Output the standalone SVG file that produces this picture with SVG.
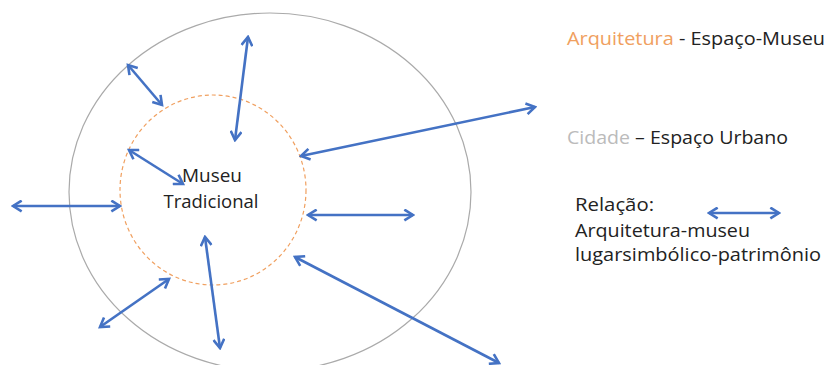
<svg xmlns="http://www.w3.org/2000/svg" width="832" height="365" viewBox="0 0 832 365">
<style>
.arr{stroke:#4472C4;stroke-width:2.6;fill:none;marker-start:url(#ah);marker-end:url(#ah)}
.t{font-family:"Open Sans","Liberation Sans",sans-serif;font-size:19px;fill:#222}
</style>
<defs>
<marker id="ah" viewBox="0 0 12 12" refX="10" refY="6" markerWidth="13" markerHeight="13" markerUnits="userSpaceOnUse" orient="auto-start-reverse">
<path d="M2,1 L10,6 L2,11" fill="none" stroke="#4472C4" stroke-width="2.4" stroke-linejoin="miter"/>
</marker>
</defs>
<rect width="832" height="365" fill="#fff"/>
<g id="cidade">
<ellipse cx="270" cy="192" rx="201" ry="179" fill="none" stroke="#AAAAAA" stroke-width="1.2"/>
</g>
<g id="museu">
<ellipse cx="213" cy="190" rx="93" ry="95" fill="none" stroke="#F0A060" stroke-width="1.2" stroke-dasharray="4,3"/>
<text class="t" x="212" y="182" text-anchor="middle" font-size="20" textLength="60" lengthAdjust="spacingAndGlyphs">Museu</text>
<text class="t" x="211" y="208" text-anchor="middle" font-size="20" textLength="95" lengthAdjust="spacingAndGlyphs">Tradicional</text>
</g>
<g id="connectors">
<line class="arr" x1="248" y1="37" x2="235" y2="140"/>
<line class="arr" x1="128" y1="65" x2="162" y2="105"/>
<line class="arr" x1="535" y1="107" x2="301" y2="156"/>
<line class="arr" x1="129" y1="150" x2="183" y2="184"/>
<line class="arr" x1="13" y1="206" x2="120" y2="206"/>
<line class="arr" x1="308" y1="215" x2="413" y2="215"/>
<line class="arr" x1="169" y1="279" x2="100" y2="327"/>
<line class="arr" x1="205" y1="237" x2="220" y2="348"/>
<line class="arr" x1="295" y1="257" x2="499" y2="363"/>
</g>
<g id="legenda">
<text class="t" x="567" y="45" textLength="258" lengthAdjust="spacingAndGlyphs"><tspan fill="#F0A060">Arquitetura</tspan> - Espaço-Museu</text>
<text class="t" x="567" y="144" textLength="221" lengthAdjust="spacingAndGlyphs"><tspan fill="#BBBBBB">Cidade</tspan> – Espaço Urbano</text>
<text class="t" x="575" y="211" textLength="79" lengthAdjust="spacingAndGlyphs">Relação:</text>
<text class="t" x="575" y="237" textLength="175" lengthAdjust="spacingAndGlyphs">Arquitetura-museu</text>
<text class="t" x="575" y="261" textLength="246" lengthAdjust="spacingAndGlyphs">lugarsimbólico-patrimônio</text>
<line class="arr" x1="709" y1="213" x2="779" y2="213"/>
</g>
</svg>
